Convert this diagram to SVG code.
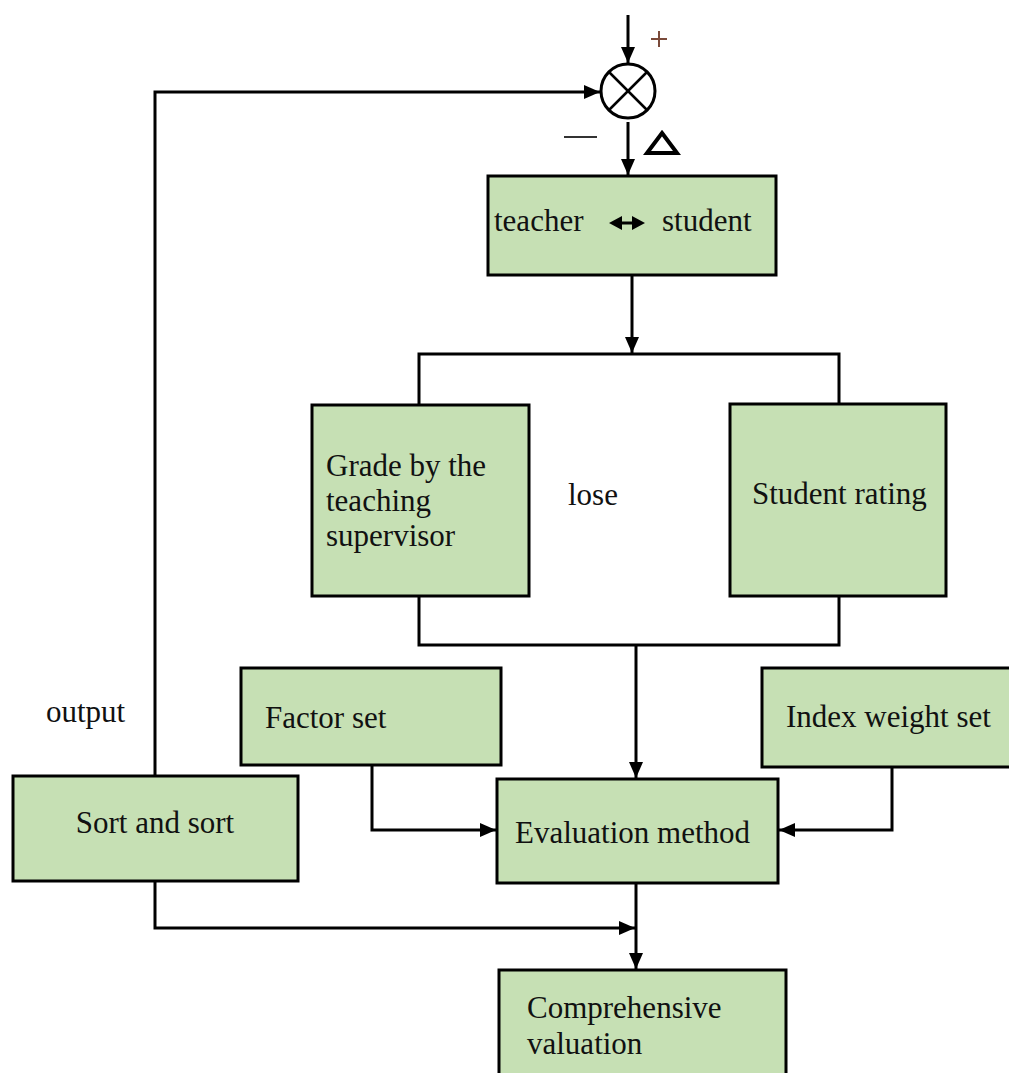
<svg xmlns="http://www.w3.org/2000/svg" width="1009" height="1073" viewBox="0 0 1009 1073">
  <style>
    .box { fill: #c6e0b4; stroke: #000; stroke-width: 3; }
    .lbl { font-family: "Liberation Serif", "Times New Roman", serif; font-size: 31px; fill: #111; }
    .ln { fill: none; stroke: #000; stroke-width: 3; }
    .arr { fill: none; stroke: #000; stroke-width: 3; marker-end: url(#ah); }
  </style>
  <defs>
    <marker id="ah" viewBox="0 0 16 14" refX="16" refY="7" markerWidth="16" markerHeight="14" markerUnits="userSpaceOnUse" orient="auto">
      <path d="M0,0 L16,7 L0,14 Z" fill="#000"/>
    </marker>
  </defs>
  <rect width="1009" height="1073" fill="#fff"/>

  <!-- comparator with its sign marks -->
  <g id="comparator">
    <circle cx="628" cy="91" r="27" fill="#fff" stroke="#000" stroke-width="3"/>
    <line x1="609" y1="72" x2="647" y2="110" stroke="#000" stroke-width="2.5"/>
    <line x1="647" y1="72" x2="609" y2="110" stroke="#000" stroke-width="2.5"/>
    <line x1="651" y1="39" x2="667" y2="39" stroke="#7a4a3a" stroke-width="2"/>
    <line x1="659" y1="31" x2="659" y2="47" stroke="#7a4a3a" stroke-width="2"/>
    <line x1="564" y1="137" x2="597" y2="137" stroke="#333" stroke-width="2"/>
    <path d="M662,133 L677,153 L647,153 Z" fill="none" stroke="#000" stroke-width="4" stroke-linejoin="miter"/>
  </g>

  <!-- connectors -->
  <g id="connectors">
    <line class="arr" x1="628" y1="15" x2="628" y2="63"/>
    <polyline class="arr" points="155,776 155,92 600,92"/>
    <line class="arr" x1="628" y1="122" x2="628" y2="175"/>
    <line class="arr" x1="632" y1="276" x2="632" y2="353"/>
    <polyline class="ln" points="419,405 419,354 839,354 839,404"/>
    <polyline class="ln" points="419,596 419,645 839,645 839,596"/>
    <line class="arr" x1="636" y1="645" x2="636" y2="778"/>
    <polyline class="arr" points="372,765 372,830 496,830"/>
    <polyline class="arr" points="892,767 892,830 779,830"/>
    <polyline class="arr" points="155,881 155,928 635,928"/>
    <line class="arr" x1="636" y1="883" x2="636" y2="969"/>
  </g>

  <g id="teacher-student">
    <rect class="box" x="488" y="176" width="288" height="99"/>
    <text class="lbl" x="494" y="231">teacher</text>
    <path d="M609,223 L622,216 L622,230 Z M645,223 L632,216 L632,230 Z" fill="#000"/>
    <line x1="620" y1="223" x2="634" y2="223" stroke="#000" stroke-width="3"/>
    <text class="lbl" x="662" y="231">student</text>
  </g>

  <g id="supervisor-grade">
    <rect class="box" x="312" y="405" width="217" height="191"/>
    <text class="lbl" x="326" y="476">Grade by the</text>
    <text class="lbl" x="326" y="511">teaching</text>
    <text class="lbl" x="326" y="546">supervisor</text>
  </g>

  <g id="lose-label">
    <text class="lbl" x="568" y="505">lose</text>
  </g>

  <g id="student-rating">
    <rect class="box" x="730" y="404" width="216" height="192"/>
    <text class="lbl" x="752" y="504">Student rating</text>
  </g>

  <g id="output-label">
    <text class="lbl" x="46" y="722">output</text>
  </g>

  <g id="factor-set">
    <rect class="box" x="241" y="668" width="260" height="97"/>
    <text class="lbl" x="265" y="728">Factor set</text>
  </g>

  <g id="index-weight-set">
    <rect class="box" x="762" y="668" width="260" height="99"/>
    <text class="lbl" x="786" y="727">Index weight set</text>
  </g>

  <g id="sort">
    <rect class="box" x="13" y="776" width="285" height="105"/>
    <text class="lbl" x="155" y="833" text-anchor="middle">Sort and sort</text>
  </g>

  <g id="evaluation-method">
    <rect class="box" x="497" y="779" width="281" height="104"/>
    <text class="lbl" x="515" y="843">Evaluation method</text>
  </g>

  <g id="comprehensive-valuation">
    <rect class="box" x="499" y="970" width="287" height="120"/>
    <text class="lbl" x="527" y="1018">Comprehensive</text>
    <text class="lbl" x="527" y="1054">valuation</text>
  </g>
</svg>
